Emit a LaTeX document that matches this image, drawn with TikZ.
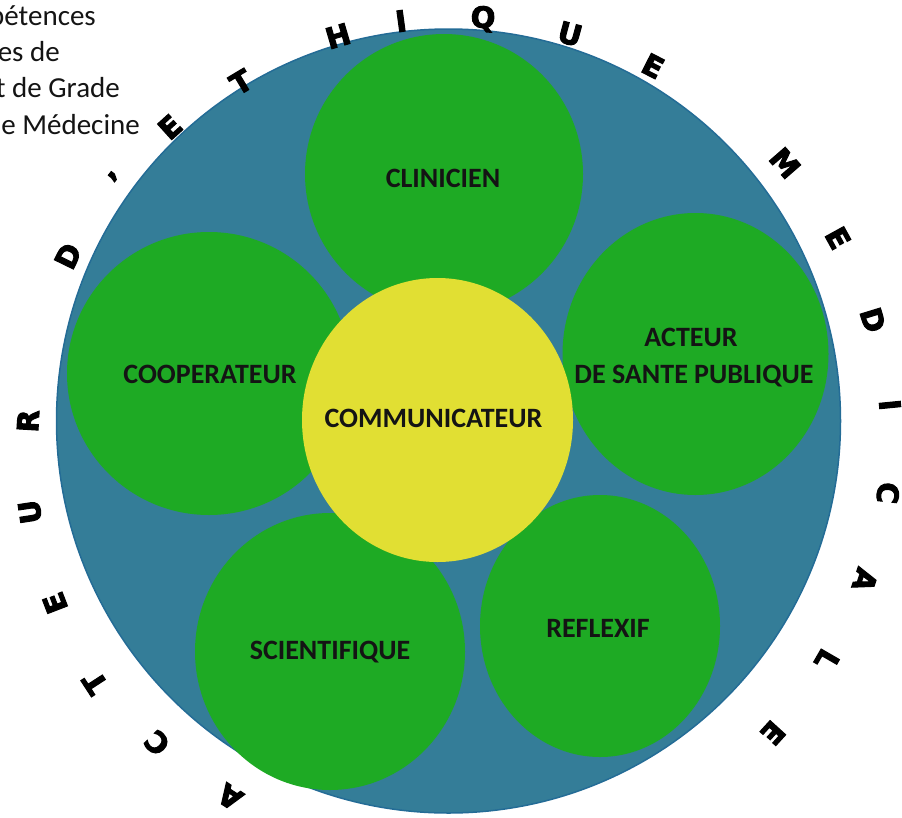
\documentclass[tikz,border=0pt]{standalone}
\usepackage{fontspec}
\setmainfont{Carlito}
\newfontfamily\arcfont{DejaVu Sans}[FakeBold=3.5]
\usetikzlibrary{shapes.geometric}
\definecolor{bluebg}{RGB}{52,125,152}
\definecolor{blueedge}{RGB}{36,108,150}
\definecolor{grn}{RGB}{30,170,36}
\definecolor{yel}{RGB}{225,223,51}
\definecolor{txt}{RGB}{20,20,20}
\begin{document}
\begin{tikzpicture}[x=1pt,y=-1pt,
  bubble/.style={ellipse, fill=grn, draw=none, inner sep=0pt},
  lbl/.style={font=\bfseries\fontsize{28}{32}\selectfont, text=txt, anchor=base, inner sep=0pt},
  arcletter/.style={font=\arcfont\bfseries\fontsize{29}{29}\selectfont, text=black, inner sep=0pt},
  corner/.style={font=\fontsize{29}{36}\selectfont, text=txt, anchor=base east, inner sep=0pt}]
\useasboundingbox (0,0) rectangle (902,817);
% main disc
\node[circle, fill=bluebg, draw=blueedge, line width=1.5pt, minimum size=784pt, inner sep=0pt] (disc) at (448.5,421) {};
% green bubbles
\node[bubble, minimum width=278pt, minimum height=280pt] (clin) at (444,174) {};
\node[bubble, minimum width=284pt, minimum height=283pt] (coop) at (209,373.5) {};
\node[bubble, minimum width=266pt, minimum height=282pt] (sante) at (695.5,354) {};
\node[bubble, minimum width=270pt, minimum height=277pt] (scien) at (330,651.5) {};
\node[bubble, minimum width=240pt, minimum height=262pt] (refl) at (600,626) {};
% central bubble
\node[ellipse, fill=yel, draw=none, inner sep=0pt, minimum width=271pt, minimum height=284pt] (comm) at (437.5,420) {};
% labels
\node[lbl] (tclin) at (443,187) {CLINICIEN};
\node[lbl] (tcoop) at (210,383) {COOPERATEUR};
\node[lbl] (tsante1) at (691,346) {ACTEUR};
\node[lbl] (tsante2) at (694,383) {DE SANTE PUBLIQUE};
\node[lbl] (tcomm) at (433.5,427) {COMMUNICATEUR};
\node[lbl] (tscien) at (330,659) {SCIENTIFIQUE};
\node[lbl] (trefl) at (598,637) {REFLEXIF};
% cropped caption top-left
\node[corner] (c1) at (96,25) {pétences};
\node[corner] (c2) at (60,61) {es de};
\node[corner] (c3) at (120,97) {t de Grade};
\node[corner] (c4) at (140,134) {e Médecine};
% circular title
\foreach \x/\y/\l [count=\i] in {230/797/A, 157/743/C, 95/683/T, 55/603/E, 30/512/U, 28/421/R,
   68/256/D, 118/180/’, 170/127/E, 241/82/T, 338/36/H, 401/21/I, 483/19/Q, 570/34/U, 653/66/E,
   785/163/M, 838/238/E, 873/320/D, 890/405/I, 888/493/C, 865/580/A, 827/660/L, 773/733/E}{
  \pgfmathsetmacro\rot{atan2(447-\y,\x-459)-90}
  \node[arcletter, rotate=\rot] (arc\i) at (\x,\y) {\l};
}
\end{tikzpicture}
\end{document}
